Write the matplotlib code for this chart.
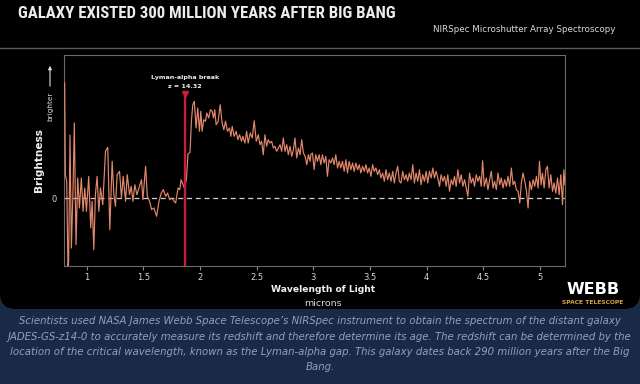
import matplotlib
matplotlib.use("Agg")
import matplotlib.pyplot as plt
from matplotlib.patches import FancyBboxPatch

# spectrum (wavelength in microns, brightness in arbitrary units)
wl_blue = [0.806, 0.812, 0.824, 0.835, 0.841, 0.853, 0.865, 0.880, 0.891, 0.906,
           0.921, 0.936, 0.953, 0.968, 0.983, 0.998, 1.018, 1.036, 1.048, 1.063,
           1.077, 1.092, 1.107, 1.122, 1.142, 1.166, 1.186, 1.204, 1.225, 1.240,
           1.254, 1.269, 1.290, 1.307, 1.322, 1.343, 1.358, 1.378, 1.393, 1.408,
           1.425, 1.443, 1.461, 1.484, 1.496, 1.520, 1.535, 1.555, 1.573, 1.594,
           1.617, 1.638, 1.658, 1.676, 1.697, 1.714, 1.732, 1.750, 1.771, 1.785,
           1.806, 1.821, 1.833, 1.850, 1.862]
flux_blue = [11.50, 2.33, 1.67, -7.0, -6.33, 6.3, -5.0, 1.0, 7.5, -4.67,
             2.0, -1.0, 2.0, -1.33, 1.0, -1.33, 2.17, -3.0, -0.33, -5.17,
             0.33, 2.17, -1.33, 1.0, -0.67, 4.67, 5.07, -3.17, 3.67, 0.33,
             -0.83, 2.33, 2.67, 0.0, 2.17, -0.33, 2.33, 0.33, 1.17, -0.33,
             1.33, 0.33, 1.0, 1.83, -0.17, 3.17, 0.17, -0.33, -1.17, -1.0,
             -1.83, -0.33, 0.5, 0.83, 0.17, 0.5, -0.17, 0.0, -0.33, -0.5,
             1.0, 0.83, 1.83, 1.33, 1.0]

wl_peak = [1.880, 1.894, 1.912, 1.924, 1.936, 1.950, 1.965, 1.980, 1.995, 2.007,
           2.018, 2.033, 2.048, 2.060, 2.077, 2.092, 2.107, 2.119, 2.130, 2.142,
           2.160, 2.178, 2.195, 2.210, 2.225, 2.242, 2.260, 2.272, 2.284, 2.301,
           2.319, 2.334, 2.349, 2.366, 2.378, 2.396, 2.411, 2.425, 2.443, 2.461,
           2.478, 2.496, 2.514, 2.529, 2.543, 2.558, 2.573, 2.588, 2.602, 2.617,
           2.632, 2.647, 2.661, 2.676, 2.691, 2.706, 2.720, 2.735, 2.750, 2.765,
           2.779, 2.794, 2.809, 2.824, 2.838, 2.853, 2.868, 2.883, 2.897, 2.912,
           2.927, 2.942, 2.956, 2.971]
flux_peak = [1.83, 4.4, 4.57, 7.67, 9.33, 9.67, 7.0, 9.0, 6.67, 8.67,
             6.67, 7.83, 7.67, 8.5, 8.0, 8.83, 8.67, 8.0, 8.83, 7.33,
             7.67, 9.33, 7.5, 6.83, 7.67, 6.67, 7.0, 6.17, 7.17, 6.17,
             6.67, 5.83, 6.33, 5.67, 6.17, 5.5, 6.67, 5.5, 6.5, 6.0,
             7.73, 5.67, 6.33, 5.33, 5.67, 4.33, 6.33, 5.17, 5.83, 5.5,
             5.67, 5.0, 5.17, 4.67, 5.0, 5.33, 4.67, 6.0, 4.67, 5.33,
             4.33, 5.17, 4.17, 4.83, 6.0, 4.0, 5.0, 4.33, 5.83, 4.5,
             4.17, 3.33, 4.33, 3.67]

wl_mid = [2.977, 2.992, 3.007, 3.021, 3.036, 3.051, 3.066, 3.080, 3.095, 3.110,
          3.124, 3.139, 3.154, 3.169, 3.183, 3.198, 3.213, 3.228, 3.242, 3.257,
          3.272, 3.287, 3.301, 3.316, 3.331, 3.346, 3.360, 3.375, 3.390, 3.405,
          3.419, 3.434, 3.449, 3.464, 3.478, 3.493, 3.508, 3.523, 3.537, 3.552,
          3.567, 3.582, 3.596, 3.611, 3.626, 3.641, 3.655, 3.670, 3.685, 3.700,
          3.714, 3.729, 3.744, 3.759, 3.773, 3.788, 3.803, 3.818, 3.832, 3.847,
          3.862, 3.877, 3.891, 3.906, 3.921, 3.936, 3.950, 3.965, 3.980, 3.995,
          4.009, 4.024, 4.039, 4.054, 4.068]
flux_mid = [4.33, 4.5, 2.83, 4.33, 3.67, 4.33, 3.33, 4.33, 3.5, 4.17,
            2.17, 3.83, 3.5, 4.0, 3.33, 4.33, 3.0, 3.67, 3.0, 3.67,
            2.67, 3.83, 2.5, 3.67, 2.83, 3.5, 2.67, 3.5, 2.83, 3.33,
            2.5, 3.17, 2.67, 3.33, 2.5, 3.0, 2.17, 3.33, 2.67, 3.0,
            2.33, 2.83, 2.0, 2.5, 1.67, 2.83, 1.83, 2.5, 1.67, 2.67,
            1.5, 2.5, 3.17, 1.67, 1.5, 2.67, 1.83, 2.33, 1.67, 2.5,
            1.83, 3.33, 1.5, 2.5, 1.67, 2.83, 1.33, 2.33, 1.67, 2.67,
            1.5, 2.67, 2.0, 3.0, 2.0]

wl_tail = [4.083, 4.098, 4.113, 4.127, 4.142, 4.157, 4.172, 4.186, 4.201, 4.216,
           4.231, 4.245, 4.260, 4.275, 4.290, 4.304, 4.319, 4.334, 4.349, 4.363,
           4.378, 4.393, 4.408, 4.422, 4.437, 4.452, 4.467, 4.481, 4.493, 4.508,
           4.526, 4.540, 4.555, 4.570, 4.585, 4.599, 4.614, 4.629, 4.644, 4.658,
           4.673, 4.688, 4.703, 4.717, 4.732, 4.747, 4.762, 4.776, 4.791, 4.806,
           4.821, 4.835, 4.850, 4.865, 4.880, 4.894, 4.909, 4.924, 4.939, 4.953,
           4.968, 4.983, 4.995, 5.009, 5.021, 5.036, 5.051, 5.065, 5.080, 5.095,
           5.110, 5.124, 5.139, 5.154, 5.169, 5.183, 5.198, 5.210, 5.219]
flux_tail = [2.67, 2.0, 1.17, 2.33, 1.67, 2.17, 1.17, 2.33, 0.67, 1.83,
             1.33, 2.17, 1.17, 2.83, 1.5, 2.33, 1.17, 1.83, 1.0, 0.17,
             2.5, 1.5, 2.0, 1.17, 2.33, 1.67, 2.17, 1.17, 3.73, 1.17,
             2.0, 0.83, 1.83, 2.67, 1.0, 1.67, 0.83, 2.5, 1.33, 2.0,
             1.0, 1.83, 1.17, 2.17, 1.17, 3.0, 1.33, 1.67, 0.83, 0.67,
             -0.5, 1.5, 2.5, 1.67, 0.67, -1.0, 1.67, 0.83, 1.83, 1.17,
             2.17, 1.0, 3.67, 1.33, 2.5, 1.0, 2.83, 3.17, 1.0, 2.33,
             0.67, 1.5, 0.5, 2.0, 0.33, 2.33, -0.67, 2.83, 1.33]

wavelength = wl_blue + wl_peak + wl_mid + wl_tail
brightness = flux_blue + flux_peak + flux_mid + flux_tail

lyman_break = 1.87
redshift = 14.32
x_ticks = [1, 1.5, 2, 2.5, 3, 3.5, 4, 4.5, 5]
x_tick_labels = ["1", "1.5", "2", "2.5", "3", "3.5", "4", "4.5", "5"]

title = "GALAXY EXISTED 300 MILLION YEARS AFTER BIG BANG"
subtitle = "NIRSpec Microshutter Array Spectroscopy"
caption = [
    "Scientists used NASA James Webb Space Telescope\u2019s NIRSpec instrument to obtain the spectrum of the distant galaxy",
    "JADES-GS-z14-0 to accurately measure its redshift and therefore determine its age. The redshift can be determined by the",
    "location of the critical wavelength, known as the Lyman-alpha gap. This galaxy dates back 290 million years after the Big",
    "Bang.",
]

NAVY = "#182a45"
LINE = "#e3886b"
RED = "#c81e3c"

fig = plt.figure(figsize=(6.4, 3.84), dpi=100, facecolor=NAVY)

# background layer in pixel coordinates
bg = fig.add_axes([0, 0, 1, 1], zorder=-1)
bg.set_xlim(0, 640)
bg.set_ylim(384, 0)
bg.axis("off")
bg.add_patch(FancyBboxPatch((0, -30), 640, 339, boxstyle="round,pad=0,rounding_size=16",
                            facecolor="black", edgecolor="none"))
bg.plot([0, 640], [47.5, 47.5], color="#5a5a5a", lw=1.0)

title_fams = ["Roboto Condensed", "DejaVu Sans Condensed", "Liberation Sans Narrow",
              "Open Sans Condensed", "Roboto", "DejaVu Sans"]
t_title = bg.text(18, 14, title, fontsize=14, fontweight="bold", color="#ececec",
                  va="center", ha="left", family=title_fams, fontstretch="condensed")
bg.text(615, 29, subtitle, fontsize=6.3, color="#d8d8d8", va="center", ha="right")

# axis titles
bg.text(39, 160, "Brightness", fontsize=7.6, fontweight="bold", color="#f0f0f0",
        rotation=90, va="center", ha="center")
bg.text(50, 106, "brighter", fontsize=5.3, color="#dddddd", rotation=90, va="center", ha="center")
bg.annotate("", xy=(50, 63), xytext=(50, 89),
            arrowprops=dict(arrowstyle="-|>", color="#dddddd", lw=0.8, mutation_scale=5))
bg.text(323, 289, "Wavelength of Light", fontsize=6.6, fontweight="bold", color="#f0f0f0",
        va="center", ha="center")
bg.text(323, 303, "microns", fontsize=6.8, color="#d8d8d8", va="center", ha="center")

# Webb logo text
bg.text(593, 289.5, "WEBB", fontsize=11.5, fontweight="bold", color="white",
        va="center", ha="center")
bg.text(593, 303, "SPACE TELESCOPE", fontsize=4.3, fontweight="bold", color="#d9a441",
        va="center", ha="center")

caption_y = [321.5, 337, 352, 367]
cap_texts = []
for line, yy in zip(caption, caption_y):
    cap_texts.append(bg.text(320, yy, line, fontsize=7, style="italic", color="#8fa1bd",
                             va="center", ha="center", family="DejaVu Sans"))

# spectrum
ax = fig.add_axes([64 / 640, 1 - 266 / 384, 501 / 640, 211 / 384], facecolor="black")
ax.plot(wavelength, brightness, color=LINE, lw=0.85, zorder=3)
ax.axhline(0, color="#d0d0d0", lw=0.9, ls=(0, (4, 3)), zorder=2)
ax.axvline(lyman_break, ymax=0.806, color=RED, lw=1.7, zorder=4)
ax.plot([lyman_break], [10.4], marker="v", color=RED, markersize=4, zorder=5)
ax.text(lyman_break, 12.1, "Lyman-alpha break", fontsize=4.6, fontweight="bold",
        color="#eeeeee", ha="center", va="center")
ax.text(lyman_break, 11.2, "z = %.2f" % redshift, fontsize=4.6, fontweight="bold",
        color="#eeeeee", ha="center", va="center")

ax.set_xlim(0.80, 5.22)
ax.set_ylim(-6.8, 14.3)
ax.set_xticks(x_ticks)
ax.set_xticklabels(x_tick_labels)
ax.set_yticks([0])
ax.set_yticklabels(["0"])
ax.tick_params(axis="x", colors="#8a8a8a", labelcolor="#d8d8d8", labelsize=6, length=3, width=0.8, pad=2)
ax.tick_params(axis="y", length=0, labelcolor="#d8d8d8", labelsize=6, pad=5)
for s in ax.spines.values():
    s.set_color("#6a6a6a")
    s.set_linewidth(0.8)

# fit the title and caption widths to the reference layout
fig.canvas.draw()
r = fig.canvas.get_renderer()
w = t_title.get_window_extent(r).width
t_title.set_fontsize(14 * 378 / w)
w2 = cap_texts[1].get_window_extent(r).width
for t in cap_texts:
    t.set_fontsize(7 * 630 / w2)

fig.savefig("out.png", dpi=100, facecolor=NAVY)
